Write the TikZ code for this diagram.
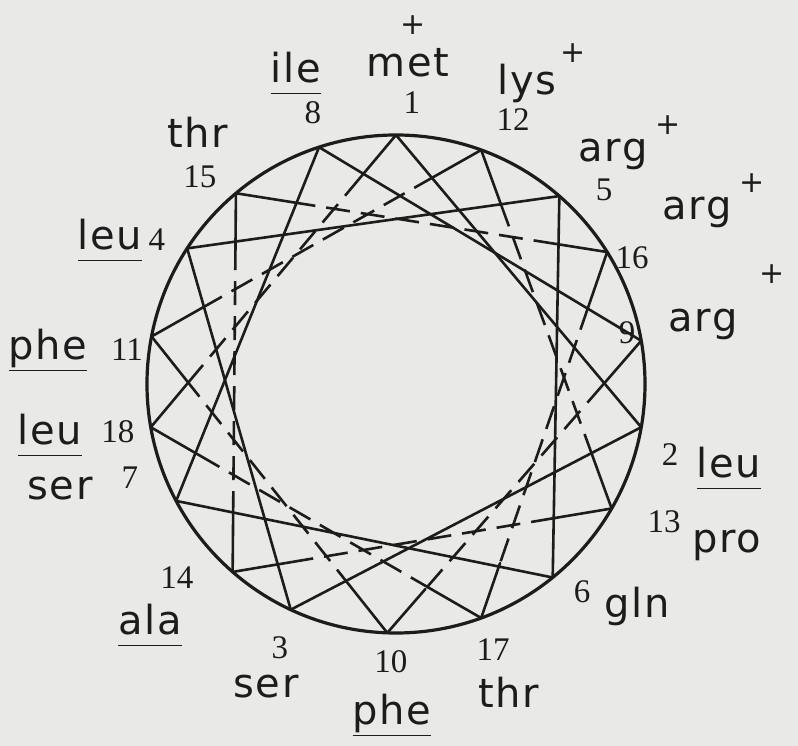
\documentclass[tikz,border=0pt]{standalone}
\usepackage{fontspec}
\usepackage{tikz}
\usetikzlibrary{calc}
\newfontfamily\resfont[LetterSpace=4]{DejaVu Sans}
\newfontfamily\numfont{Liberation Serif}
\definecolor{paper}{RGB}{233,233,231}
\definecolor{ink}{RGB}{28,28,28}
\newcommand{\hyd}[1]{\underline{#1\vphantom{p}}}

\begin{document}
\begin{tikzpicture}[x=1pt, y=1pt,
    every node/.style={inner sep=0pt, text=ink},
    res/.style={font=\resfont\fontsize{40}{44}\selectfont, anchor=base},
    num/.style={font=\numfont\fontsize{33}{36}\selectfont},
    chg/.style={font=\resfont\fontsize{30}{32}\selectfont},
    ring/.style={draw=ink, line width=3.2pt},
    front/.style={draw=ink, line width=2.6pt, line cap=round},
    back/.style={draw=ink, line width=2.6pt, dash pattern=on 24pt off 11pt}
]
\fill[paper] (-396,-362) rectangle (402,384);
\useasboundingbox (-396,-362) rectangle (402,384);

% wheel
\draw[ring] (0,0) circle (249);
\foreach \n/\a in {1/90, 2/-10, 3/-115, 4/147, 5/49, 6/-51, 7/-152, 8/108, 9/10,
                   10/-92, 11/169, 12/70, 13/-30, 14/-131, 15/130, 16/32, 17/-70, 18/-170}
  \coordinate (r\n) at (\a:249);

% first half of the helix
\foreach \i/\j in {1/2, 2/3, 3/4, 4/5, 5/6, 6/7, 7/8, 8/9}
  \draw[front] (r\i) -- (r\j);

% second half: ends solid, middle dashed
\foreach \i/\j in {9/10, 10/11, 11/12, 12/13, 13/14, 14/15, 15/16, 16/17, 17/18, 18/1} {
  \draw[front] (r\i) -- ($(r\i)!0.15!(r\j)$);
  \draw[back] ($(r\i)!0.15!(r\j)$) -- ($(r\i)!0.85!(r\j)$);
  \draw[front] ($(r\i)!0.85!(r\j)$) -- (r\j);
}

% residue names
\node[res] (met1) at (12,307) {met};
\node[res] (lys12) at (131,289) {lys};
\node[res] (arg5) at (217,222) {arg};
\node[res] (arg16) at (301,164) {arg};
\node[res] (arg9) at (307,52) {arg};
\node[res] (leu2) at (333,-94) {\hyd{leu}};
\node[res] (pro13) at (331,-169) {pro};
\node[res] (gln6) at (241,-234) {gln};
\node[res] (thr17) at (113,-324) {thr};
\node[res] (phe10) at (-4,-341) {\hyd{phe}};
\node[res] (ser3) at (-130,-314) {ser};
\node[res] (ala14) at (-246,-251) {\hyd{ala}};
\node[res] (ser7) at (-336,-116) {ser};
\node[res] (leu18) at (-346,-61) {\hyd{leu}};
\node[res] (phe11) at (-348,24) {\hyd{phe}};
\node[res] (leu4) at (-286,134) {\hyd{leu}};
\node[res] (thr15) at (-198,236) {thr};
\node[res] (ile8) at (-100,301) {\hyd{ile}};

% charges
\node[chg] (pl1) at (17,359) {+};
\node[chg] (pl12) at (177,331) {+};
\node[chg] (pl5) at (272,259) {+};
\node[chg] (pl16) at (356,201) {+};
\node[chg] (pl9) at (376,110) {+};

% residue numbers
\node[num] (n1) at (16,281) {1};
\node[num] (n2) at (274,-71) {2};
\node[num] (n3) at (-116,-264) {3};
\node[num] (n4) at (-239,144) {4};
\node[num] (n5) at (208,194) {5};
\node[num] (n6) at (186,-208) {6};
\node[num] (n7) at (-266,-94) {7};
\node[num] (n8) at (-83,271) {8};
\node[num] (n9) at (231,51) {9};
\node[num] (n10) at (-5,-278) {10};
\node[num] (n11) at (-269,34) {11};
\node[num] (n12) at (117,264) {12};
\node[num] (n13) at (268,-138) {13};
\node[num] (n14) at (-219,-194) {14};
\node[num] (n15) at (-196,207) {15};
\node[num] (n16) at (236,126) {16};
\node[num] (n17) at (97,-266) {17};
\node[num] (n18) at (-278,-48) {18};
\end{tikzpicture}
\end{document}
